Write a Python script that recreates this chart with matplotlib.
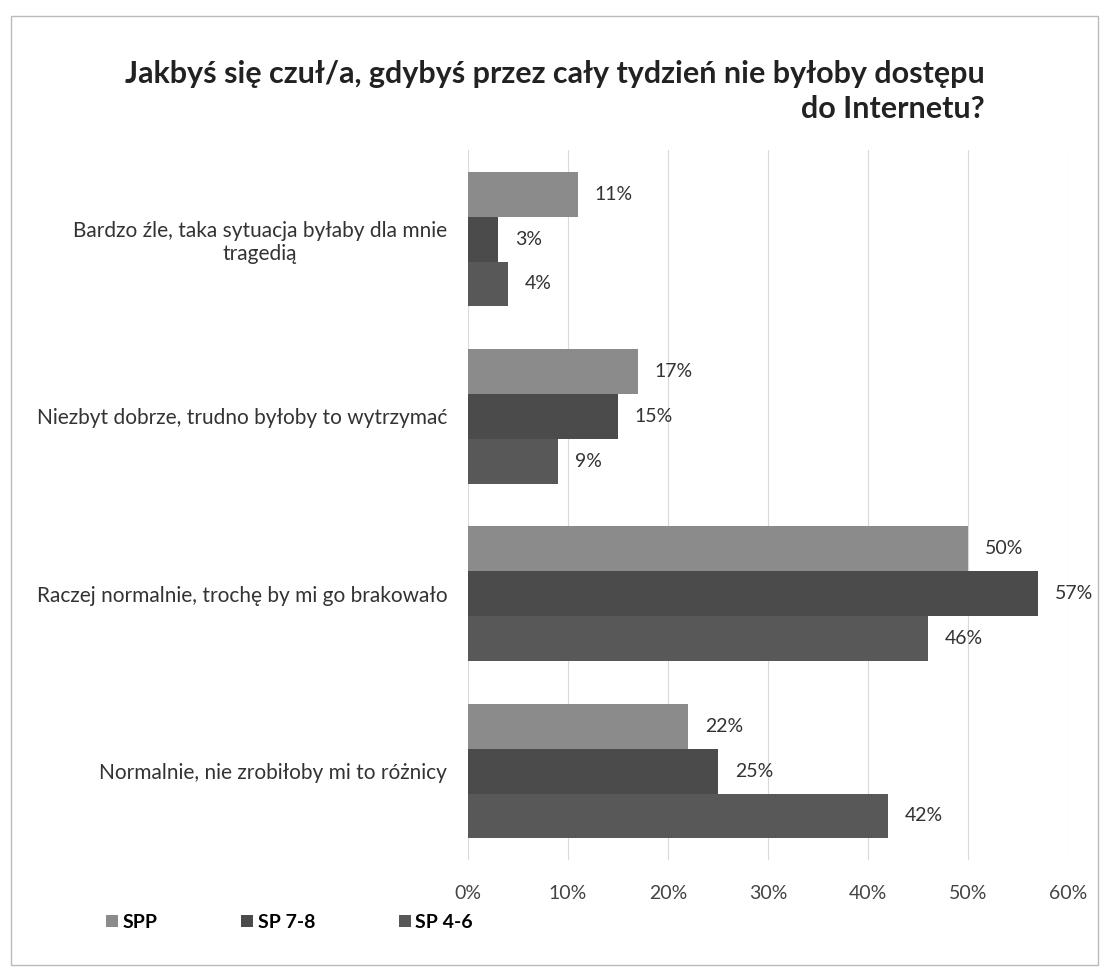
import matplotlib.pyplot as plt
import numpy as np

plt.rcParams['font.family'] = ['Lato', 'DejaVu Sans']

# dane
kategorie = [
    "Bardzo źle, taka sytuacja byłaby dla mnie\ntragedią",
    "Niezbyt dobrze, trudno byłoby to wytrzymać",
    "Raczej normalnie, trochę by mi go brakowało",
    "Normalnie, nie zrobiłoby mi to różnicy",
]
serie = ["SPP", "SP 7-8", "SP 4-6"]
spp = [11, 17, 50, 22]
sp78 = [3, 15, 57, 25]
sp46 = [4, 9, 46, 42]
kolory = ["#8b8b8b", "#4b4b4b", "#585858"]
x_ticks = [0, 10, 20, 30, 40, 50, 60]

fig = plt.figure(figsize=(11.09, 9.77), dpi=100)
ax = fig.add_axes([0.422, 0.12, 0.541, 0.726])

y = np.arange(len(kategorie))
h = 0.253
for i, (wart, nazwa) in enumerate(zip([spp, sp78, sp46], serie)):
    pos = y + (i - 1) * h
    ax.barh(pos, wart, height=h, color=kolory[i], label=nazwa, zorder=2)
    for p, v in zip(pos, wart):
        ax.annotate(f"{v}%", (v, p), xytext=(12, 0), textcoords="offset points",
                    va="center", ha="left", fontsize=14, color="#333333")

ax.set_xlim(0, 60)
ax.set_ylim(3.5, -0.5)
ax.set_yticks(y)
ax.set_yticklabels(kategorie, fontsize=15, color="#333333", ma="center")
ax.set_xticks(x_ticks)
ax.set_xticklabels([f"{t}%" for t in x_ticks], fontsize=14, color="#444444")
ax.tick_params(axis="both", length=0)
ax.tick_params(axis="y", pad=15)
ax.tick_params(axis="x", pad=18)
ax.grid(axis="x", color="#d9d9d9", linewidth=0.8, zorder=0)
for s in ax.spines.values():
    s.set_visible(False)

fig.text(0.888, 0.906, "Jakbyś się czuł/a, gdybyś przez cały tydzień nie byłoby dostępu\ndo Internetu?",
         ha="right", va="center", ma="right", fontsize=22, fontweight="bold",
         color="#222222", linespacing=1.3)

fig.legend(loc="center left", bbox_to_anchor=(0.08, 0.056), ncol=3, frameon=False,
           prop={"weight": "bold", "size": 14}, handlelength=0.6, handleheight=0.6,
           columnspacing=4.3, handletextpad=0.25)

# ramka
fig.add_artist(plt.Rectangle((0.01, 0.012), 0.98, 0.972, transform=fig.transFigure,
                             fill=False, edgecolor="#bbbbbb", linewidth=1))

fig.savefig("out.png", dpi=100)
